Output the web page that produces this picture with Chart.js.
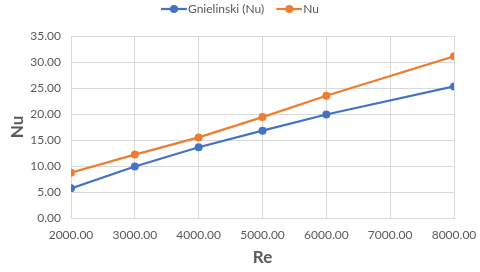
<!DOCTYPE html>
<html><head><meta charset="utf-8">
<script src="https://cdn.jsdelivr.net/npm/chart.js@4"></script>
<style>html,body{margin:0;padding:0;background:#fff}#wrap{width:480px;height:272px}</style>
</head><body><div id="wrap"><canvas id="c" width="480" height="272"></canvas></div>
<script>
const reValues = [2000, 3000, 4000, 5000, 6000, 8000];
const gnielinskiNu = [5.7, 9.9, 13.6, 16.8, 19.9, 25.3];
const nuValues = [8.7, 12.2, 15.5, 19.4, 23.5, 31.1];
const seriesNames = ['Gnielinski (Nu)', 'Nu'];
const xTitle = 'Re', yTitle = 'Nu';

function legendIcon(color){
  const cv = document.createElement('canvas');
  cv.width = 40; cv.height = 10;
  const g = cv.getContext('2d');
  g.strokeStyle = color; g.lineWidth = 2.25;
  g.beginPath(); g.moveTo(14,5); g.lineTo(40,5); g.stroke();
  g.fillStyle = color; g.beginPath(); g.arc(27,5,4,0,Math.PI*2); g.fill();
  return cv;
}
const colors = ['#4472C4', '#ED7D31'];
const icons = colors.map(legendIcon);
const toPts = arr => reValues.map((x,i)=>({x, y: arr[i]}));

Chart.defaults.font.family = 'Lato, "Open Sans", sans-serif';
Chart.defaults.color = '#595959';

const legendHeight = {
  id: 'legendHeight',
  afterInit(chart){
    const lg = chart.legend; if (!lg) return;
    const f = lg.fit;
    lg.fit = function(){ f.call(this); this.height = 36; };
  }
};

new Chart(document.getElementById('c'), {
  type: 'line',
  data: { datasets: [
    { label: seriesNames[0], data: toPts(gnielinskiNu), borderColor: colors[0], backgroundColor: colors[0], borderWidth: 2.25, pointRadius: 4, pointHoverRadius: 4, pointStyle: 'circle', pointBorderWidth: 0 },
    { label: seriesNames[1], data: toPts(nuValues), borderColor: colors[1], backgroundColor: colors[1], borderWidth: 2.25, pointRadius: 4, pointHoverRadius: 4, pointStyle: 'circle', pointBorderWidth: 0 }
  ]},
  plugins: [legendHeight],
  options: {
    responsive: false, animation: false, devicePixelRatio: 1,
    layout: { padding: { left: 0, right: 9, top: 0, bottom: 0 } },
    plugins: {
      tooltip: { enabled: false },
      legend: { position: 'top', labels: {
        usePointStyle: true, pointStyleWidth: 30, boxHeight: 10, padding: 3,
        font: { size: 12 }, color: '#595959',
        generateLabels: (chart) => chart.data.datasets.map((d,i)=>({ text: d.label, pointStyle: icons[i], fillStyle: colors[i], strokeStyle: colors[i], lineWidth: 0, datasetIndex: i, hidden: false, fontColor: '#595959' }))
      }}
    },
    scales: {
      x: { type: 'linear', min: 2000, max: 8000,
        ticks: { stepSize: 1000, padding: 10, font: { size: 12 }, color: '#595959', callback: v => v.toFixed(2), maxRotation: 0 },
        grid: { color: '#d9d9d9', drawTicks: false },
        border: { color: '#d9d9d9' },
        title: { display: true, text: xTitle, font: { size: 17, weight: 'bold' }, color: '#595959', padding: { top: 4 } },
        afterFit: s => { s.height = 54; s.paddingRight = 26; s.paddingLeft = 0; }
      },
      y: { min: 0, max: 35,
        ticks: { stepSize: 5, padding: 10, font: { size: 12 }, color: '#595959', callback: v => v.toFixed(2) },
        grid: { color: '#d9d9d9', drawTicks: false },
        border: { color: '#d9d9d9' },
        title: { display: true, text: yTitle, font: { size: 17, weight: 'bold' }, color: '#595959', padding: { top: 7, bottom: 4 } },
        afterFit: s => { s.width = 71; s.paddingTop = 0; s.paddingBottom = 0; }
      }
    }
  }
});
</script></body></html>
